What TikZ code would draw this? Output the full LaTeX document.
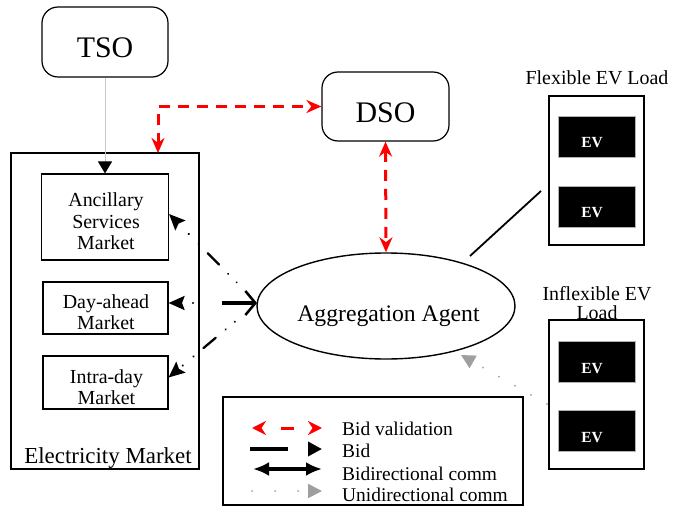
\documentclass[tikz,border=0pt]{standalone}
\usepackage{fontspec}
\setmainfont{Liberation Serif}
\usetikzlibrary{arrows.meta,shapes.geometric}
\newcommand{\inbox}[3]{\makebox[0pt]{\hspace*{#1}\raisebox{#2}[0pt][0pt]{\begin{tabular}[t]{@{}c@{}}#3\end{tabular}}}}
\tikzset{
  rbox/.style={draw, line width=1.2bp, rounded corners=16bp, minimum width=126bp, minimum height=70bp, inner sep=0pt, font=\fontsize{30}{34}\selectfont},
  mbox/.style={draw, line width=1.1bp, inner sep=0pt, font=\fontsize{20}{21.5}\selectfont},
  outbox/.style={draw, line width=1.2bp, inner sep=0pt},
  evbox/.style={fill=black, draw=gray!60, line width=0.8bp, minimum width=77bp, minimum height=41bp, inner sep=0pt, text=white, font=\fontsize{15.5}{18}\selectfont\bfseries},
  lbl/.style={inner sep=0pt, font=\fontsize{20}{20}\selectfont},
  leg/.style={inner sep=0pt, font=\fontsize{19.5}{20}\selectfont},
  valid/.style={red, line width=3bp, dash pattern=on 11bp off 8bp, {Stealth[length=15bp,width=13bp]}-{Stealth[length=15bp,width=13bp]}},
  bidtip/.style={-{Stealth[length=16bp,width=14bp,inset=2.5bp]}},
  bidline/.style={line width=2.3bp, line cap=round, bidtip, dash pattern=on 0.01bp off 12bp on 0.01bp off 13bp on 16bp off 13bp on 0.01bp off 14bp on 0.01bp off 129bp, dash phase=168.04bp},
  tsoline/.style={gray!45, line width=1bp, -{Triangle[length=12bp,width=14bp,color=black]}},
  uniline/.style={gray!75, line width=2bp, line cap=round, dash pattern=on 0.01bp off 18.4bp, -{Triangle[length=14bp,width=14bp]}},
}
\begin{document}
\begin{tikzpicture}[x=1bp,y=-1bp]
\useasboundingbox (0,0) rectangle (683,506);

% top boxes
\node[rbox] (tso) at (105,42) {\inbox{0bp}{-16bp}{TSO}};
\node[rbox, minimum width=127bp, minimum height=69bp] (dso) at (385.5,106.5) {\inbox{0bp}{-16.5bp}{DSO}};

% electricity market
\node[outbox, minimum width=188bp, minimum height=316bp, font=\fontsize{23}{24}\selectfont] (em) at (105,311) {\inbox{6bp}{-152bp}{Electricity Market}};
\node[mbox, minimum width=127bp, minimum height=86bp] (anc) at (105,217) {\inbox{2bp}{10bp}{Ancillary\\Services\\Market}};
\node[mbox, minimum width=125bp, minimum height=52bp] (day) at (105.5,308) {\inbox{1bp}{0bp}{Day-ahead\\Market}};
\node[mbox, minimum width=125bp, minimum height=53bp] (intra) at (105.5,382.5) {\inbox{2bp}{-0.5bp}{Intra-day\\Market}};

% aggregation agent
\node[draw, ellipse, line width=1.4bp, minimum width=258bp, minimum height=106bp, inner sep=0pt, font=\fontsize{23.8}{26}\selectfont] (ag) at (386,306) {\inbox{5bp}{-15bp}{Aggregation Agent}};

% EV loads
\node[lbl, anchor=base] (flexlbl) at (597,85) {Flexible EV Load};
\node[outbox, minimum width=95bp, minimum height=149bp] (flex) at (596.5,170.5) {};
\node[evbox] (ev1) at (596.5,136.5) {\inbox{-9bp}{-11.5bp}{EV}};
\node[evbox] (ev2) at (596.5,206.5) {\inbox{-9bp}{-11.5bp}{EV}};

\node[outbox, minimum width=95bp, minimum height=149bp] (infl) at (596.5,394.5) {};
\node[lbl, font=\fontsize{20}{20}\selectfont] (infllbl) at (597,300) {\inbox{0bp}{0bp}{Inflexible EV\\Load}};
\node[evbox] (ev3) at (596.5,361.5) {\inbox{-9bp}{-11.5bp}{EV}};
\node[evbox] (ev4) at (596.5,430.5) {\inbox{-9bp}{-11.5bp}{EV}};

% connectors
\draw[tsoline] (tso.south) -- (anc.north);
\coordinate (emtop) at (158,153);
\draw[valid] (emtop) |- (dso.west);
\draw[valid] (dso.south) -- (ag.north);

\coordinate (agw) at (257,303);
\draw[bidline] (agw) -- ([yshift=3bp]anc.east);
\draw[bidline] (agw) -- ([yshift=5bp]intra.east);
\draw[line width=2.3bp, line cap=round, bidtip, dash pattern=on 0.01bp off 200bp, dash phase=136.01bp] (agw) -- ([yshift=5bp]day.east);
\coordinate (bidstart) at (222,303);
\draw[line width=3.5bp, -{Straight Barb[length=10bp,width=24bp,line width=2.5bp]}] (bidstart) -- (agw);

\coordinate (fl1) at (470,256);
\coordinate (fl2) at (541,191);
\draw[line width=1.8bp] (fl1) -- (fl2);

\coordinate (un1) at (547,404);
\coordinate (un2) at (461,355);
\draw[uniline] (un1) -- (un2);

% legend
\node[outbox, line width=1.1bp, minimum width=300bp, minimum height=108bp] (legend) at (373,451) {};
\coordinate (l1a) at (252,428); \coordinate (l1b) at (322,428);
\coordinate (l2a) at (250,449); \coordinate (l2b) at (322,449);
\coordinate (l3a) at (253,469); \coordinate (l3b) at (322,469);
\coordinate (l4a) at (252,491); \coordinate (l4b) at (322,491);
\draw[red, line width=3bp, dash pattern=on 13bp off 50bp, dash phase=43bp, {Stealth[length=14bp,width=14bp]}-{Stealth[length=14bp,width=14bp]}] (l1a) -- (l1b);
\draw[line width=3.5bp, dash pattern=on 38bp off 100bp, -{Triangle[length=14bp,width=14bp]}] (l2a) -- (l2b);
\draw[line width=3.5bp, {Latex[length=16bp,width=14bp]}-{Latex[length=16bp,width=14bp]}] (l3a) -- (l3b);
\draw[gray!75, line width=2bp, line cap=round, dash pattern=on 0.01bp off 23bp, -{Triangle[length=14bp,width=14bp]}] (l4a) -- (l4b);
\node[leg, anchor=base west] (t1) at (342,435) {Bid validation};
\node[leg, anchor=base west] (t2) at (342,457) {Bid};
\node[leg, anchor=base west] (t3) at (342,480) {Bidirectional comm};
\node[leg, anchor=base west] (t4) at (342,501) {Unidirectional comm};
\end{tikzpicture}
\end{document}
